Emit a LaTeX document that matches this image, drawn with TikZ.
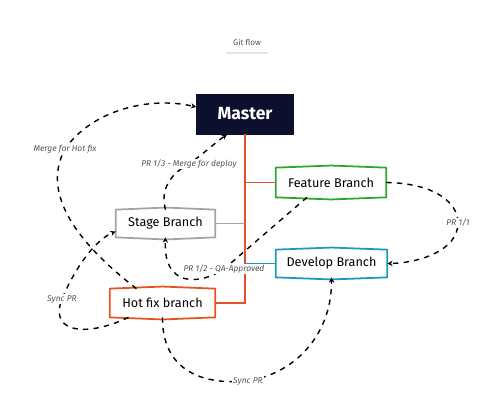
\documentclass[tikz,border=0pt]{standalone}
\usepackage{fontspec}
\setmainfont{Fira Sans}
\usepackage{tikz}
\usetikzlibrary{arrows.meta,calc}

\definecolor{masterblue}{HTML}{0D0F2E}
\definecolor{trunkred}{HTML}{E2522A}
\definecolor{featgreen}{HTML}{2EA62E}
\definecolor{stagegray}{HTML}{A3A3A3}
\definecolor{devblue}{HTML}{1C97BD}
\definecolor{hotred}{HTML}{E4521F}
\definecolor{labelgray}{HTML}{555555}

\begin{document}
\begin{tikzpicture}[x=0.02cm, y=-0.02cm,
  branch/.style={inner sep=0pt, font=\fontsize{7.2}{8}\selectfont},
  flow/.style={dashed, line width=0.8pt, -{Stealth[length=3pt,width=3pt]}},
  lbl/.style={fill=white, inner sep=0.6pt, text=labelgray, font=\fontsize{4.8}{5}\selectfont\itshape}]
\useasboundingbox (0,0) rectangle (500,419);

% title
\node[text=labelgray, font=\fontsize{4.6}{5}\selectfont] (title) at (247,42) {Git flow};
\draw[black!10, line width=0.8pt] (226,53) -- (268,53);

% branches
\node[fill=masterblue, draw=masterblue, minimum width=1.94cm, minimum height=0.8cm,
  text=white, font=\fontsize{10}{12}\selectfont\bfseries] (master) at (245,114) {Master};
\node[branch, minimum width=2.2cm, minimum height=0.58cm] (feature) at (331,182.5) {Feature Branch};
\node[branch, minimum width=1.98cm, minimum height=0.54cm] (stage) at (165.5,223.5) {Stage Branch};
\node[branch, minimum width=2.22cm, minimum height=0.54cm] (develop) at (331.5,263.5) {Develop Branch};
\node[branch, minimum width=2.1cm, minimum height=0.56cm] (hotfix) at (162.5,303) {Hot fix branch};

\foreach \n/\c in {feature/featgreen, stage/stagegray, develop/devblue, hotfix/hotred}
  \draw[\c, line width=1pt, line join=round]
    (\n.north west) -- ([yshift=1.2pt]\n.north) -- (\n.north east) -- (\n.south east)
    -- ([yshift=-1.2pt]\n.south) -- (\n.south west) -- cycle;

% trunk
\draw[trunkred, line width=1.3pt] (master.south) |- (hotfix.east);
\draw[trunkred, line width=1.1pt] (feature.west) -- (feature.west -| master.south);
\draw[stagegray, line width=1.1pt] (stage.east) -- (stage.east -| master.south);
\draw[devblue, line width=1.1pt] (develop.west) -- (develop.west -| master.south);

% pull requests
\draw[flow] ($(hotfix.north)+(-26,0)$) .. controls (80,245) and (40,195) .. (65,149)
  node[lbl] {Merge for Hot fix}
  .. controls (92,110) and (150,96) .. ($(master.west)+(0,-7)$);
\draw[flow] (stage.north) .. controls (160,190) and (170,174) .. (189,164)
  node[lbl] {PR 1/3 - Merge for deploy}
  .. controls (203,154) and (215,143) .. ($(master.south)+(-18,0)$);
\draw[flow] (feature.east) .. controls (430,183) and (458,200) .. (458,223)
  node[lbl] {PR 1/1}
  .. controls (458,250) and (420,263) .. (develop.east);
\draw[flow] ($(feature.south)+(-24,0)$) -- (224,269)
  node[lbl] {PR 1/2 - QA-Approved}
  .. controls (200,285) and (163,288) .. (stage.south);
\draw[flow] ($(hotfix.south)+(-34,0)$) .. controls (90,336) and (48,335) .. (62,299)
  node[lbl] {Sync PR}
  .. controls (75,268) and (95,240) .. ($(stage.west)+(0,8)$);
\draw[flow] (hotfix.south) .. controls (162,365) and (195,386) .. (248,381)
  node[lbl] {Sync PR}
  .. controls (300,372) and (332,330) .. (develop.south);
\end{tikzpicture}
\end{document}
